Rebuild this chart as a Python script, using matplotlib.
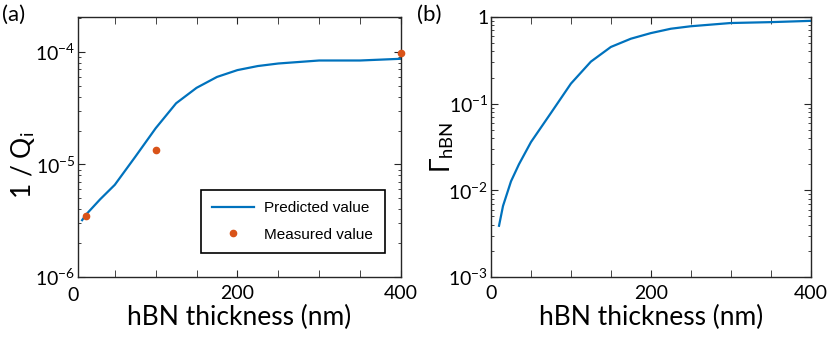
import matplotlib
matplotlib.use('Agg')
import matplotlib.pyplot as plt
import matplotlib.transforms as mtransforms
from matplotlib.ticker import LogLocator, NullFormatter, FixedLocator

plt.rcParams['font.family'] = ['Lato', 'DejaVu Sans']
plt.rcParams['mathtext.fontset'] = 'custom'
plt.rcParams['mathtext.rm'] = 'Lato'
plt.rcParams['mathtext.it'] = 'Lato:italic'

BLUE = '#0072BD'
ORANGE = '#D95319'
AXC = '#262626'

# (a) predicted 1/Qi vs hBN thickness, plus measured points
pred_t = [10, 15, 32, 50, 75, 100, 125, 150, 175, 200, 225, 250, 300, 350, 400]
pred_q = [3.2e-6, 3.6e-6, 4.9e-6, 6.6e-6, 1.17e-5, 2.1e-5, 3.5e-5, 4.8e-5,
          6.0e-5, 6.9e-5, 7.5e-5, 7.9e-5, 8.4e-5, 8.4e-5, 8.7e-5]
meas_t = [15, 100, 400]
meas_q = [3.5e-6, 1.35e-5, 9.7e-5]

# (b) Gamma_hBN vs hBN thickness
gam_t = [10, 15, 25, 35, 50, 75, 100, 125, 150, 175, 200, 225, 250, 300, 350, 400]
gam_v = [0.0039, 0.0066, 0.0127, 0.020, 0.036, 0.078, 0.17, 0.305, 0.45,
         0.56, 0.65, 0.73, 0.78, 0.85, 0.87, 0.9]


def style(ax):
    ax.set_yscale('log')
    for s in ax.spines.values():
        s.set_color(AXC)
        s.set_linewidth(1.0)
    ax.tick_params(which='both', direction='in', top=True, right=True,
                   colors=AXC, labelcolor='black', labelsize=14)
    ax.tick_params(which='major', length=5)
    ax.tick_params(which='minor', length=2.5)
    ax.tick_params(axis='y', pad=2)
    ax.tick_params(axis='x', pad=6)
    ax.xaxis.set_major_locator(FixedLocator([0, 200, 400]))
    ax.xaxis.set_minor_locator(FixedLocator([50, 100, 150, 250, 300, 350]))
    ax.tick_params(axis='x', which='minor', length=5)
    ax.yaxis.set_minor_locator(LogLocator(base=10, subs=range(2, 10)))
    ax.yaxis.set_minor_formatter(NullFormatter())
    ax.set_xlabel('hBN thickness (nm)', fontsize=19, labelpad=2)


fig = plt.figure(figsize=(8.3, 3.52), dpi=100)
ax1 = fig.add_axes([0.094, 0.213, 0.389, 0.739])
ax2 = fig.add_axes([0.5916, 0.213, 0.385, 0.739])

style(ax1)
ax1.plot(pred_t, pred_q, color=BLUE, lw=1.6, label='Predicted value')
ax1.plot(meas_t, meas_q, 'o', color=ORANGE, ms=4.5, label='Measured value',
         clip_on=False, zorder=5)
ax1.set_xlim(5, 400)
ax1.set_ylim(1e-6, 2.05e-4)
ax1.set_yticks([1e-6, 1e-5, 1e-4])
ax1.set_yticklabels([r'10$^{\mathregular{-6}}$', r'10$^{\mathregular{-5}}$',
                     r'10$^{\mathregular{-4}}$'])
# the 0 label sits just left of the axis start
trans = mtransforms.blended_transform_factory(ax1.transData, ax1.transAxes)
ax1.text(-1, -0.04, '0', transform=trans, ha='center', va='top', fontsize=14)
ax1.set_ylabel(r'1 / Q$_{\mathregular{i}}$', fontsize=19)
ax1.yaxis.set_label_coords(-0.127, 0.43)
leg = ax1.legend(loc='lower right', bbox_to_anchor=(0.95, 0.092),
                 prop={'family': 'Liberation Sans', 'size': 11},
                 fancybox=False, edgecolor='black', framealpha=1,
                 handlelength=2.7, borderpad=0.75, labelspacing=0.8,
                 handletextpad=0.7, borderaxespad=0)
leg.get_frame().set_linewidth(1.2)

style(ax2)
ax2.plot(gam_t, gam_v, color=BLUE, lw=1.6)
ax2.set_xlim(0, 400)
ax2.set_ylim(1e-3, 1)
ax2.set_yticks([1e-3, 1e-2, 1e-1, 1])
ax2.set_yticklabels([r'10$^{\mathregular{-3}}$', r'10$^{\mathregular{-2}}$',
                     r'10$^{\mathregular{-1}}$', '1'])
ax2.set_ylabel(r'Γ$_{\mathregular{hBN}}$', fontsize=19)
ax2.yaxis.set_label_coords(-0.111, 0.5)

fig.text(0.002, 0.985, '(a)', fontsize=16, va='top', ha='left')
fig.text(0.502, 0.985, '(b)', fontsize=16, va='top', ha='left')

fig.savefig('out.png', dpi=100)
